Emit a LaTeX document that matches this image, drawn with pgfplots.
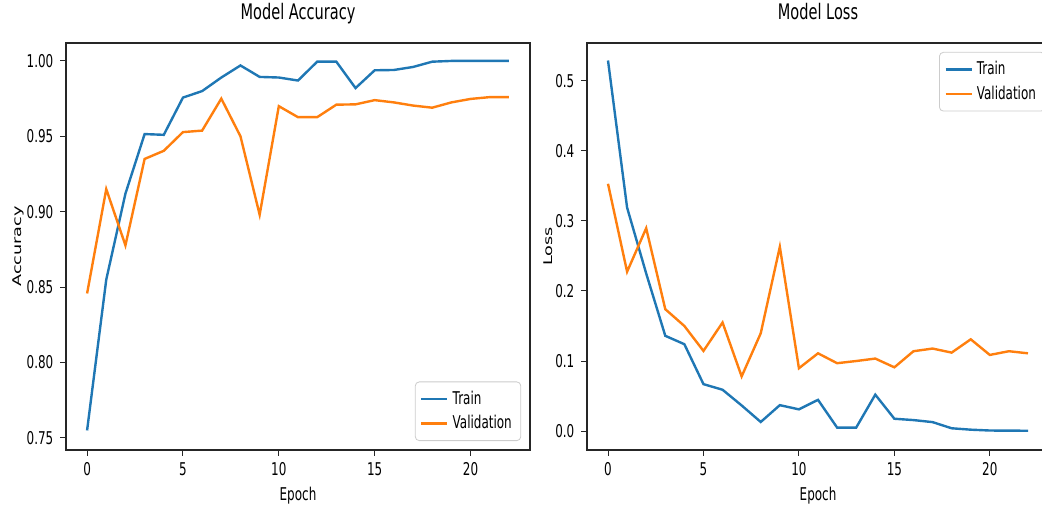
\documentclass[border=0pt]{standalone}
\usepackage{fontspec}
\setmainfont{DejaVu Sans}[FakeStretch=0.68]
\newfontfamily\plainfont{DejaVu Sans}
\usepackage{graphicx}
\usepackage{pgfplots}
\pgfplotsset{compat=1.18}
\definecolor{mplblue}{HTML}{1F77B4}
\definecolor{mplorange}{HTML}{FF7F0E}
\pgfplotsset{
  mystyle/.style={
    scale only axis, width=232pt, height=203.5pt,
    axis line style={line width=0.6pt, black!85},
    tick align=outside, xtick pos=left, ytick pos=left,
    major tick length=2.8pt, tick style={black!85, line width=0.5pt},
    xmin=-1.1, xmax=23.1,
    xtick={0,5,10,15,20},
    tick label style={font=\fontsize{8.8}{10}\selectfont},
    /pgf/number format/assume math mode=true,
    xlabel style={font=\fontsize{8.8}{10}\selectfont, at={(0.5,0)}, anchor=base, yshift=-25.5pt},
    title style={font=\fontsize{10.7}{12}\selectfont, at={(0.5,1)}, anchor=base, yshift=5.5pt},
    legend style={font=\fontsize{8.8}{10}\selectfont, draw=black!20, rounded corners=2pt,
      fill=white, fill opacity=0.8, text opacity=1, inner sep=2.5pt},
    legend cell align=left,
    legend image code/.code={\draw[##1, line width=1.2pt] (0pt,0pt) -- (13pt,0pt);},
    every axis plot/.append style={line width=1.2pt},
  }
}
\begin{document}
\begin{tikzpicture}
\begin{axis}[mystyle,
  at={(33pt,28pt)}, anchor=south west,
  ymin=0.742, ymax=1.0119,
  ytick={0.75,0.80,0.85,0.90,0.95,1.00},
  yticklabel style={/pgf/number format/fixed, /pgf/number format/fixed zerofill, /pgf/number format/precision=2},
  title={Model Accuracy},
  xlabel={Epoch},
  ylabel={\plainfont\fontsize{8.8}{10}\selectfont\scalebox{1}[0.68]{Accuracy}},
  ylabel style={at={(-0.1034,0.5)}, anchor=center},
  legend style={at={(0.981,0.022)}, anchor=south east},
]
\addplot[mplblue] coordinates {
(0,0.755) (1,0.855) (2,0.912) (3,0.9515) (4,0.951) (5,0.9757) (6,0.980) (7,0.989)
(8,0.997) (9,0.9894) (10,0.989) (11,0.987) (12,0.9995) (13,0.9995) (14,0.982)
(15,0.9938) (16,0.994) (17,0.996) (18,0.9995) (19,1.0) (20,1.0) (21,1.0) (22,1.0)};
\addlegendentry{Train}
\addplot[mplorange] coordinates {
(0,0.8458) (1,0.915) (2,0.8777) (3,0.935) (4,0.9404) (5,0.9528) (6,0.9538) (7,0.975)
(8,0.950) (9,0.898) (10,0.970) (11,0.9627) (12,0.9627) (13,0.971) (14,0.9712)
(15,0.974) (16,0.9725) (17,0.9704) (18,0.969) (19,0.9725) (20,0.9748) (21,0.976) (22,0.976)};
\addlegendentry{Validation}
\end{axis}
\begin{axis}[mystyle,
  at={(293.5pt,28pt)}, anchor=south west, width=231pt,
  ymin=-0.027, ymax=0.554,
  ytick={0,0.1,0.2,0.3,0.4,0.5},
  yticklabel style={/pgf/number format/fixed, /pgf/number format/fixed zerofill, /pgf/number format/precision=1},
  title={Model Loss},
  xlabel={Epoch},
  ylabel={\plainfont\fontsize{8.8}{10}\selectfont\scalebox{1}[0.68]{Loss}},
  ylabel style={at={(-0.0844,0.5)}, anchor=center},
  legend style={at={(0.992,0.978)}, anchor=north east},
]
\addplot[mplblue] coordinates {
(0,0.529) (1,0.319) (2,0.225) (3,0.136) (4,0.124) (5,0.067) (6,0.059) (7,0.0366)
(8,0.013) (9,0.037) (10,0.031) (11,0.0446) (12,0.005) (13,0.005) (14,0.052)
(15,0.0176) (16,0.0157) (17,0.0128) (18,0.004) (19,0.002) (20,0.0008) (21,0.0006) (22,0.0005)};
\addlegendentry{Train}
\addplot[mplorange] coordinates {
(0,0.353) (1,0.2275) (2,0.2896) (3,0.174) (4,0.150) (5,0.1144) (6,0.155) (7,0.078)
(8,0.1396) (9,0.263) (10,0.0897) (11,0.111) (12,0.0969) (13,0.100) (14,0.1035)
(15,0.091) (16,0.114) (17,0.1178) (18,0.112) (19,0.131) (20,0.1087) (21,0.114) (22,0.111)};
\addlegendentry{Validation}
\end{axis}
\pgfresetboundingbox
\useasboundingbox (0,0) rectangle (521pt,253pt);
\end{tikzpicture}
\end{document}
